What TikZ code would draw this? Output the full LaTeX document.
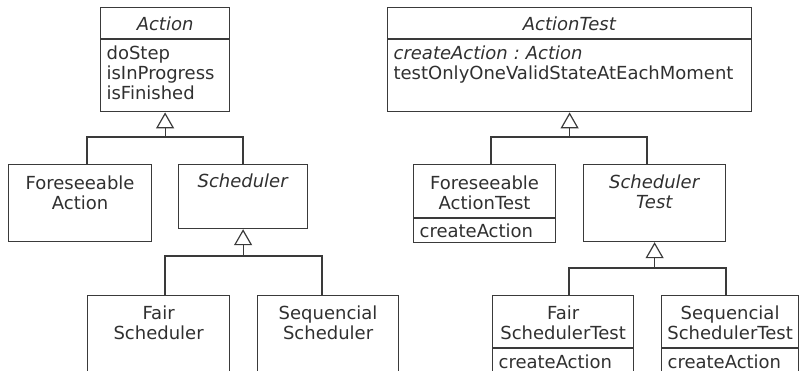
\documentclass[tikz,border=0pt]{standalone}
\usepackage{fontspec}
\setmainfont{DejaVu Sans}
\usetikzlibrary{arrows.meta}

\definecolor{umlline}{HTML}{3A3A3A}
\definecolor{umltext}{HTML}{303030}

\begin{document}
\begin{tikzpicture}[
      x=1pt, y=-1pt,
      cls/.style={draw=umlline, line width=1.2pt, text=umltext, anchor=north west,
        inner xsep=0pt, inner ysep=0pt, align=center,
        font=\fontsize{18}{20}\selectfont\frenchspacing},
      ops/.style={cls, align=left, inner xsep=6pt},
      link/.style={draw=umlline, line width=1.2pt},
      >={Triangle[open, length=16pt, width=18pt]}
    ]
    \clip (0,0) rectangle (799,371);

    % production classes
    \node[cls, text width=129pt, text height=22.5pt, text depth=8.5pt] (act) at (100,7) {\textit{Action}};
    \node[ops, text width=117pt, text height=20pt, text depth=52pt] (actOps) at (act.south west) {doStep\\isInProgress\\isFinished};
    \node[cls, text width=143pt, text height=24.5pt, text depth=52.5pt] (fore) at (8,164) {Foreseeable\\Action};
    \node[cls, text width=129pt, text height=22.5pt, text depth=41.5pt] (sched) at (178,164) {\textit{Scheduler}};
    \node[cls, text width=142pt, text height=23.5pt, text depth=76.5pt] (fair) at (87,295) {Fair\\Scheduler};
    \node[cls, text width=141pt, text height=23.5pt, text depth=76.5pt] (seq) at (257,295) {Sequencial\\Scheduler};

    % test classes
    \node[cls, text width=364pt, text height=22.5pt, text depth=8.5pt] (actT) at (387,7) {\textit{ActionTest}};
    \node[ops, text width=352pt, text height=20pt, text depth=52pt] (actTOps) at (actT.south west) {\textit{createAction : Action}\\testOnlyOneValidStateAtEachMoment};
    \node[cls, text width=142pt, text height=24.5pt, text depth=28.5pt] (foreT) at (413,164) {Foreseeable\\ActionTest};
    \node[ops, text width=130pt, text height=18.5pt, text depth=5.5pt] (foreTOps) at (foreT.south west) {createAction};
    \node[cls, text width=142pt, text height=24pt, text depth=53pt] (schedT) at (583,164) {\textit{Scheduler}\\\textit{Test}};
    \node[cls, text width=141pt, text height=23.5pt, text depth=28.5pt] (fairT) at (492,295) {Fair\\SchedulerTest};
    \node[ops, text width=129pt, text height=19.5pt, text depth=30pt] (fairTOps) at (fairT.south west) {createAction};
    \node[cls, text width=137pt, text height=23.5pt, text depth=28.5pt] (seqT) at (661,295) {Sequencial\\SchedulerTest};
    \node[ops, text width=125pt, text height=19.5pt, text depth=30pt] (seqTOps) at (seqT.south west) {createAction};

    % generalisations
    \coordinate (actL) at (87,137);
    \coordinate (actR) at (243,137);
    \draw[link] (fore.north -| actL) -- (actL) -- (actR) -- (sched.north -| actR);
    \draw[link, ->] (actOps.south |- actL) -- (actOps.south);

    \coordinate (schL) at (165,256);
    \coordinate (schR) at (322,256);
    \draw[link] (fair.north -| schL) -- (schL) -- (schR) -- (seq.north -| schR);
    \draw[link, ->] (sched.south |- schL) -- (sched.south);

    \coordinate (actTL) at (491,137);
    \coordinate (actTR) at (647,137);
    \draw[link] (foreT.north -| actTL) -- (actTL) -- (actTR) -- (schedT.north -| actTR);
    \draw[link, ->] (actTOps.south |- actTL) -- (actTOps.south);

    \coordinate (schTL) at (569,268);
    \coordinate (schTR) at (726,268);
    \draw[link] (fairT.north -| schTL) -- (schTL) -- (schTR) -- (seqT.north -| schTR);
    \draw[link, ->] (schedT.south |- schTL) -- (schedT.south);
  \end{tikzpicture}
\end{document}
